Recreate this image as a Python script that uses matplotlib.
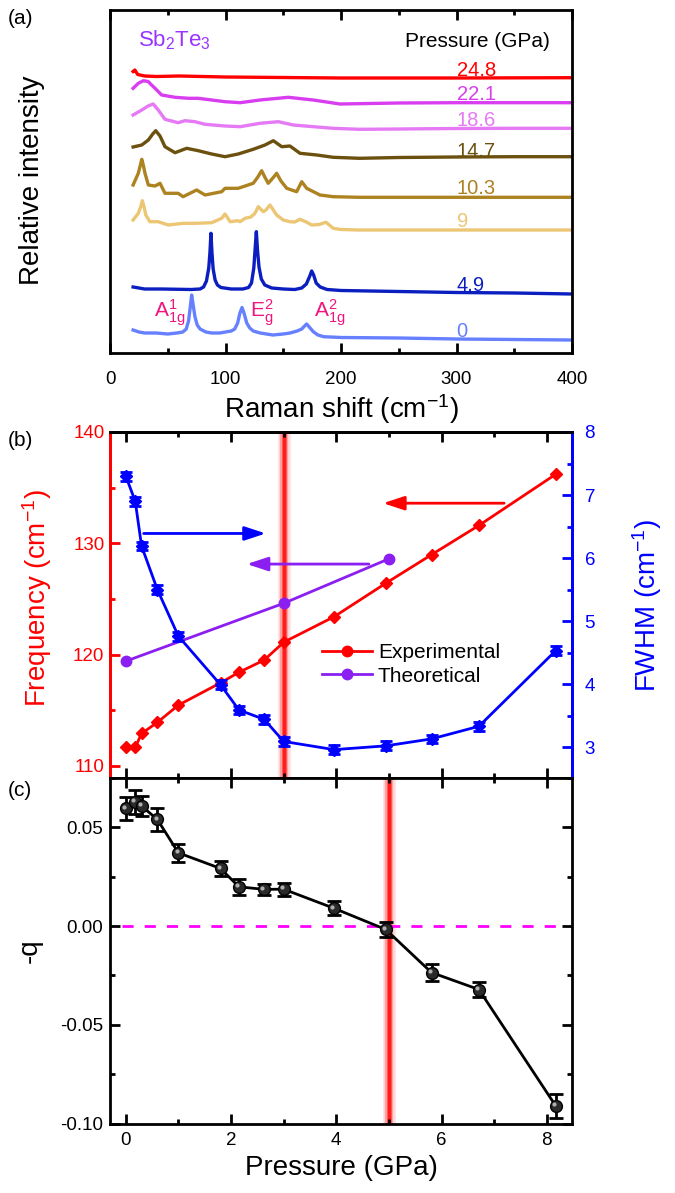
import matplotlib
matplotlib.use('Agg')
import matplotlib.pyplot as plt
from matplotlib.ticker import MultipleLocator, FormatStrFormatter
from matplotlib.lines import Line2D
import matplotlib.transforms as mtransforms

plt.rcParams['font.family'] = ['Liberation Sans', 'DejaVu Sans']
plt.rcParams['mathtext.fontset'] = 'custom'
plt.rcParams['mathtext.rm'] = 'Liberation Sans'
plt.rcParams['mathtext.it'] = 'Liberation Sans:italic'
plt.rcParams['mathtext.bf'] = 'Liberation Sans:bold'
plt.rcParams['axes.unicode_minus'] = False

# ---------------- Panel (a): Raman spectra (offset, relative intensity) ----------------
shift_0 = [20, 25, 30, 40, 50, 58, 63, 66, 68, 69.5, 70.7, 72, 73.6, 75.5, 78, 83, 88, 95, 100, 105, 108,
           110.5, 112.5, 114.3, 116, 118.4, 121, 124, 130, 141, 150, 156, 162, 166, 168.5, 170.3, 172.5,
           176, 180, 185, 200, 250, 300, 350, 400]
int_0 = [23, 21, 20, 20, 19, 20, 21, 24, 32, 46, 58, 48, 36, 28, 24, 21, 20, 20, 21, 22, 24,
         30, 40, 45.5, 40, 30, 25, 22, 20, 18, 19, 20, 22, 24, 27, 29, 26,
         21.3, 18, 16.3, 15.5, 15, 14, 13.5, 13]

shift_49 = [20, 25, 30, 45, 60, 70, 78, 81, 83.5, 85.5, 86.5, 87.4, 88.3, 89.3, 91, 93, 96, 105, 115, 120,
            122.5, 124.5, 125.7, 126.7, 127.7, 129, 131, 134, 140, 150, 160, 166, 170, 173, 174.6, 176.3,
            178.5, 182, 188, 200, 250, 300, 350, 400]
int_49 = [66, 65, 64, 64, 63.7, 63.5, 64, 66, 72, 85, 100, 119.7, 100, 84, 73, 68, 65.5, 64, 64, 65.5,
          70, 85, 105, 121.3, 103, 86, 74, 68, 65, 64, 63.5, 65, 69, 77, 82, 78,
          70, 66, 63.5, 62.5, 61.5, 60.5, 60, 59]

shift_9 = [20, 24.5, 26.5, 28, 29.5, 31, 34.6, 41.8, 50.4, 63.3, 75, 88, 96.7, 99.6, 104, 111, 112.6, 117,
           122, 125.5, 128.4, 132.7, 135, 138.5, 144.3, 150, 155.8, 160, 164.5, 170, 174.6, 181, 187,
           193.3, 200, 216, 250, 300, 350, 400]
int_9 = [133, 139.7, 146, 152.3, 146, 138, 131.3, 131.3, 128, 129.7, 129.7, 130.3, 134.7, 139, 131.3, 132.3,
         131.3, 134.7, 136, 139.7, 146.3, 141.3, 143, 148, 138, 133, 131.3, 131, 133.7, 131, 128, 128.5,
         130.7, 124.7, 123.5, 123, 123, 123, 123, 123]

shift_103 = [20, 24.5, 26.3, 27.5, 28.8, 30.3, 33.2, 39, 43.3, 47.6, 59, 63.3, 75, 82.3, 96.7, 99.6, 111,
             117, 124, 128, 131.3, 134, 137, 141, 144.3, 148, 153, 161.6, 166, 170.3, 181.8, 193.3, 216,
             250, 300, 350, 400]
int_103 = [168, 179.7, 188, 193.7, 188, 179.7, 168, 167, 169.7, 159.7, 159.7, 156.3, 163, 158, 161.3, 164.7,
           164.7, 167, 169.7, 176, 182.3, 176, 169.7, 175, 179.7, 172, 164.7, 161.3, 171.3, 164.7, 158,
           156.3, 155.7, 155.7, 155.7, 155.7, 155.7]

shift_147 = [20, 27.5, 33.2, 37, 39.6, 43.3, 47.6, 56.3, 66.4, 76.4, 88, 99.6, 111, 124, 134.2, 141.4,
             148.7, 155.8, 164.5, 179, 193.3, 216, 250, 300, 350, 400]
int_147 = [206, 208, 213, 219, 222.3, 217, 206.3, 200.3, 204.7, 202.3, 199, 196.3, 199, 203.7, 208, 212.3,
           206.3, 207, 199.7, 198, 195.7, 194.7, 195.5, 196, 196.3, 196.3]

shift_186 = [20, 27.5, 33, 37.4, 41.8, 47.6, 59, 64.9, 73.6, 82.3, 99.6, 112.6, 129.9, 145.7, 158.7, 176,
             193.3, 216, 250, 300, 350, 400]
int_186 = [238, 243, 247, 249, 243, 233.7, 230.3, 232.3, 231.3, 228.7, 227, 226.3, 229.7, 231.3, 228, 226.3,
           224.7, 223.7, 224, 224.5, 224.7, 224.7]

shift_221 = [20, 24.5, 28.9, 33, 36, 39, 44.7, 56.3, 68, 76.4, 88, 99.6, 112.6, 129.9, 154.3, 176, 199,
             250, 300, 350, 400]
int_221 = [264.7, 269.7, 272.3, 271.5, 268, 264.7, 258, 255.7, 254.7, 254.7, 253, 251.3, 250.3, 253, 255.7,
           253, 249, 250, 250.3, 250.3, 250.3]

shift_248 = [20, 21.5, 24, 30, 40, 60, 100, 150, 200, 250, 300, 400]
int_248 = [281.5, 283, 278.5, 277, 276.5, 277, 276, 275.5, 275, 275, 275, 275.3]

spec_labels = ['24.8', '22.1', '18.6', '14.7', '10.3', '9', '4.9', '0']
spec_label_y = [283, 258, 233, 201.3, 164.7, 131.3, 68, 21.3]
spec_colors = ['#FF0000', '#D93DF0', '#E57AF4', '#6B500F', '#AC8320', '#ECC674', '#0B1EBF', '#6680FF']
spec_shifts = [shift_248, shift_221, shift_186, shift_147, shift_103, shift_9, shift_49, shift_0]
spec_ints = [int_248, int_221, int_186, int_147, int_103, int_9, int_49, int_0]

peak_labels = [r'$\mathrm{A}^{1}_{1\mathrm{g}}$', r'$\mathrm{E}^{2}_{\mathrm{g}}$', r'$\mathrm{A}^{2}_{1\mathrm{g}}$']
peak_label_x = [38, 121, 176.6]
peak_label_y = [40, 40, 40]

# ---------------- Panel (b) ----------------
pressure = [0, 0.18, 0.3, 0.6, 1.0, 1.8, 2.15, 2.63, 3.0, 3.96, 4.94, 5.81, 6.71, 8.17]
freq_exp = [111.65, 111.65, 112.9, 113.9, 115.45, 117.45, 118.4, 119.5, 121.1, 123.4, 126.4, 128.97, 131.6, 136.2]
fwhm = [7.30, 6.90, 6.19, 5.50, 4.76, 3.99, 3.59, 3.44, 3.09, 2.96, 3.02, 3.13, 3.33, 4.53]
fwhm_err = [0.07] * 14
p_theory = [0, 3, 5]
freq_theory = [119.4, 124.6, 128.6]

# ---------------- Panel (c) ----------------
minus_q = [0.0596, 0.063, 0.0608, 0.054, 0.0371, 0.0292, 0.0199, 0.0186, 0.0187, 0.0090, -0.0017, -0.0235, -0.0321, -0.091]
minus_q_err = [0.0059, 0.006, 0.005, 0.0056, 0.0047, 0.0039, 0.0039, 0.0028, 0.0032, 0.0035, 0.0038, 0.0042, 0.0038, 0.006]

W, H = 675, 1193
fig = plt.figure(figsize=(6.75, 11.93), dpi=100)


def fr(x0, y0, x1, y1):
    return [x0 / W, 1 - y1 / H, (x1 - x0) / W, (y1 - y0) / H]


TICK_FS = 13.5
LABEL_FS = 20
SPINE_LW = 2.0

# ===== Panel (a) =====
axa = fig.add_axes(fr(110, 10, 572, 353))
for s, i, c in zip(spec_shifts, spec_ints, spec_colors):
    axa.plot(s, i, color=c, lw=2.4, solid_joinstyle='round')
for lab, y, c in zip(spec_labels, spec_label_y, spec_colors):
    axa.text(300, y, lab, color=c, fontsize=14.5, ha='left', va='center')
for lab, x, y in zip(peak_labels, peak_label_x, peak_label_y):
    axa.text(x, y, lab, color='#F0147C', fontsize=15, ha='left', va='center')
axa.text(255.4, 311.3, 'Pressure (GPa)', fontsize=15, ha='left', va='center')
axa.text(24, 313, r'Sb$_2$Te$_3$', fontsize=16, color='#9933FF', ha='left', va='center')
axa.set_xlim(0, 400)
axa.set_ylim(0, 343)
axa.xaxis.set_major_locator(MultipleLocator(100))
axa.xaxis.set_minor_locator(MultipleLocator(50))
axa.set_yticks([])
axa.tick_params(axis='x', which='both', direction='in', top=True, bottom=True, width=SPINE_LW,
                labelsize=TICK_FS, pad=13)
axa.tick_params(axis='x', which='major', length=7)
axa.tick_params(axis='x', which='minor', length=3.5)
for sp in axa.spines.values():
    sp.set_linewidth(SPINE_LW)

# ===== Panel (b) =====
axb = fig.add_axes(fr(110, 432, 572, 778))
ax2 = axb.twinx()
for lw, al in [(9, 0.15), (6, 0.3), (3.5, 0.6), (2, 1.0)]:
    axb.axvline(3, color='#FF1A1A', lw=lw, alpha=al, zorder=0)

axb.plot(pressure, freq_exp, '-D', color='#FF0000', lw=2, ms=6, zorder=3)
axb.plot(p_theory, freq_theory, '-o', color='#8B1EF0', lw=2, ms=7.5, zorder=3)
ax2.errorbar(pressure, fwhm, yerr=fwhm_err, fmt='-D', color='#0000FF', lw=2, ms=6,
             capsize=4, capthick=2, elinewidth=2, zorder=3)

arrow_kw = dict(lw=2, shrinkA=0, shrinkB=0, mutation_scale=15)
axb.annotate('', xy=(2.30, 128.13), xytext=(4.62, 128.13),
             arrowprops=dict(arrowstyle='-|>,head_length=0.85,head_width=0.28', color='#8B1EF0', **arrow_kw))
axb.annotate('', xy=(4.89, 133.6), xytext=(7.19, 133.6),
             arrowprops=dict(arrowstyle='-|>,head_length=0.85,head_width=0.28', color='#FF0000', **arrow_kw))
ax2.annotate('', xy=(2.66, 6.39), xytext=(0.34, 6.39),
             arrowprops=dict(arrowstyle='-|>,head_length=0.85,head_width=0.28', color='#0000FF', **arrow_kw))

axb.set_xlim(-0.3, 8.48)
axb.set_ylim(108.9, 140)
ax2.set_ylim(2.51, 8)
axb.xaxis.set_major_locator(MultipleLocator(2))
axb.xaxis.set_minor_locator(MultipleLocator(1))
axb.yaxis.set_major_locator(MultipleLocator(10))
axb.yaxis.set_minor_locator(MultipleLocator(5))
ax2.yaxis.set_major_locator(MultipleLocator(1))
ax2.yaxis.set_minor_locator(MultipleLocator(0.5))
axb.tick_params(axis='x', which='both', direction='in', top=True, bottom=True, labelbottom=False,
                width=SPINE_LW)
axb.tick_params(axis='x', which='major', length=7)
axb.tick_params(axis='x', which='minor', length=3.5)
axb.tick_params(axis='y', which='both', direction='in', colors='#FF0000', width=SPINE_LW,
                labelsize=TICK_FS, pad=4)
axb.tick_params(axis='y', which='major', length=7)
axb.tick_params(axis='y', which='minor', length=3.5)
ax2.tick_params(axis='y', which='both', direction='in', colors='#0000FF', width=SPINE_LW,
                labelsize=TICK_FS, pad=9)
ax2.tick_params(axis='y', which='major', length=7)
ax2.tick_params(axis='y', which='minor', length=3.5)
for a in (axb, ax2):
    for sp in a.spines.values():
        sp.set_linewidth(SPINE_LW)
axb.spines['left'].set_color('#FF0000')
ax2.spines['left'].set_color('#FF0000')
ax2.spines['right'].set_color('#0000FF')
axb.spines['right'].set_color('#0000FF')

handles = [Line2D([], [], color='#FF0000', marker='o', lw=2, ms=7.5),
           Line2D([], [], color='#8B1EF0', marker='o', lw=2, ms=7.5)]
ax2.legend(handles, ['Experimental', 'Theoretical'], loc='center left', bbox_to_anchor=(0.458, 0.328),
           frameon=False, fontsize=15, handlelength=2.4, handletextpad=0.3, labelspacing=0.2,
           borderpad=0, borderaxespad=0)

# ===== Panel (c) =====
axc = fig.add_axes(fr(110, 778, 572, 1124))
for lw, al in [(9, 0.15), (6, 0.3), (3.5, 0.6), (2, 1.0)]:
    axc.axvline(5, color='#FF1A1A', lw=lw, alpha=al, zorder=0)
axc.axhline(0, xmin=0.025, xmax=0.978, color='#FF00FF', lw=2, dashes=(4, 4), zorder=1)
axc.errorbar(pressure, minus_q, yerr=minus_q_err, fmt='-o', color='black', mfc='#2a2a2a', mec='black',
             ms=8.5, lw=2, capsize=5, capthick=2, elinewidth=2, zorder=3)
hl = mtransforms.offset_copy(axc.transData, fig=fig, x=-1.3, y=1.3, units='points')
axc.plot(pressure, minus_q, 'o', ls='none', ms=3, color='#b0b0b0', mec='none', transform=hl, zorder=4)
axc.set_xlim(-0.3, 8.48)
axc.set_ylim(-0.1002, 0.075)
axc.xaxis.set_major_locator(MultipleLocator(2))
axc.xaxis.set_minor_locator(MultipleLocator(1))
axc.yaxis.set_major_locator(MultipleLocator(0.05))
axc.yaxis.set_minor_locator(MultipleLocator(0.025))
axc.yaxis.set_major_formatter(FormatStrFormatter('%.2f'))
axc.tick_params(axis='both', which='both', direction='in', top=True, bottom=True, left=True, right=True,
                width=SPINE_LW, labelsize=TICK_FS)
axc.tick_params(axis='both', which='major', length=7)
axc.tick_params(axis='both', which='minor', length=3.5)
axc.tick_params(axis='x', pad=6)
axc.tick_params(axis='y', pad=5)
for sp in axc.spines.values():
    sp.set_linewidth(SPINE_LW)

# ===== Axis labels and panel tags =====
def ftext(x, y, s, **kw):
    fig.text(x / W, 1 - y / H, s, ha='center', va='center', **kw)

ftext(32, 180, 'Relative intensity', fontsize=LABEL_FS, rotation=90)
ftext(341, 409, r'Raman shift (cm$^{-1}$)', fontsize=LABEL_FS)
ftext(37, 598, r'Frequency (cm$^{-1}$)', fontsize=LABEL_FS, rotation=90, color='#FF0000')
ftext(647, 605, r'FWHM (cm$^{-1}$)', fontsize=LABEL_FS, rotation=90, color='#0000FF')
ftext(30, 951, '-q', fontsize=LABEL_FS, rotation=90)
ftext(341, 1168, 'Pressure (GPa)', fontsize=LABEL_FS)
for tag, y in [('(a)', 18), ('(b)', 440), ('(c)', 790)]:
    fig.text(8 / W, 1 - y / H, tag, fontsize=15, ha='left', va='center')

fig.savefig('out.png', dpi=100)
